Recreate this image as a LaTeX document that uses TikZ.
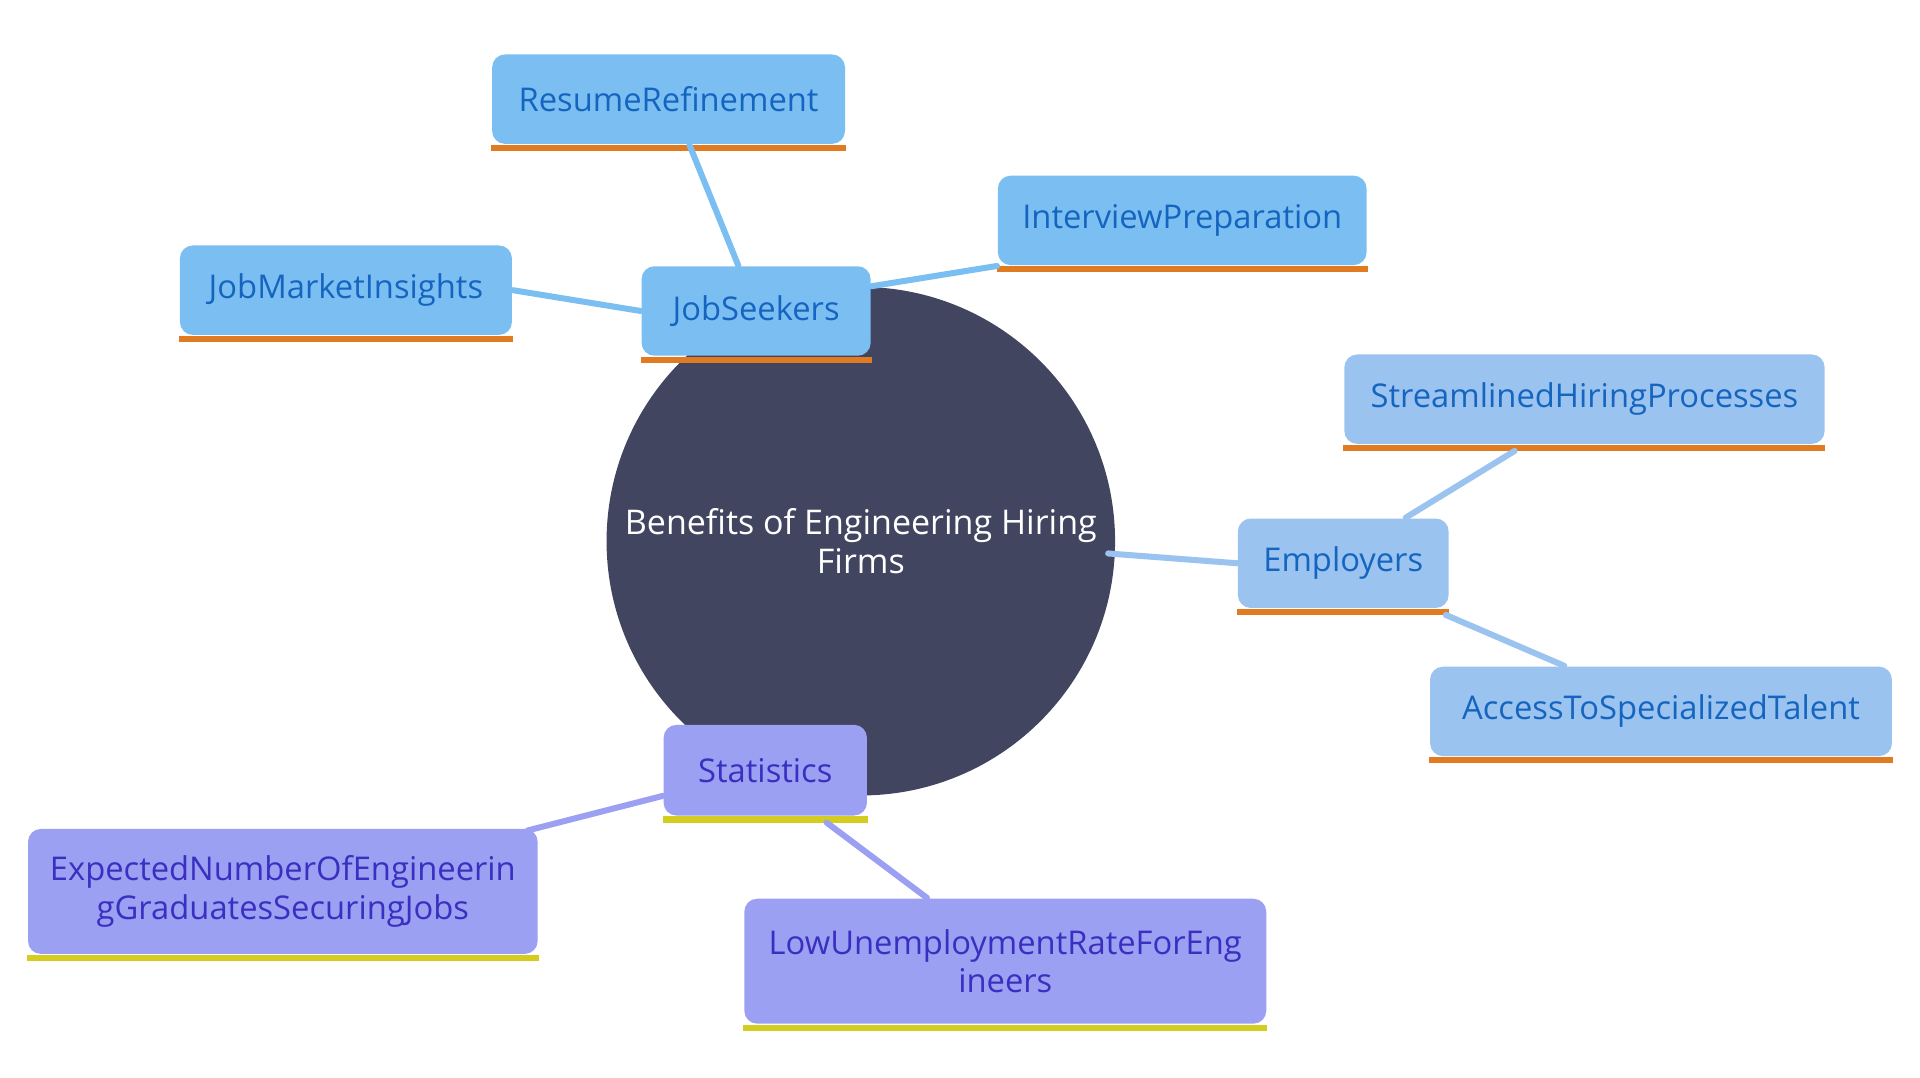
\documentclass[tikz,border=0pt]{standalone}
\usepackage{fontspec}
\setmainfont{Open Sans}
\usetikzlibrary{calc, positioning}

\definecolor{hubfill}{HTML}{414560}
\definecolor{seekfill}{HTML}{7BBFF2}
\definecolor{seektext}{HTML}{1565C0}
\definecolor{empfill}{HTML}{9AC3EF}
\definecolor{statfill}{HTML}{9BA0F2}
\definecolor{stattext}{HTML}{3A2FC0}
\definecolor{orangebar}{HTML}{E07B22}
\definecolor{yellowbar}{HTML}{D4CC1F}

\tikzset{
  box/.style={rectangle, rounded corners=3pt, inner sep=0pt, font=\fontsize{7.6}{9}\selectfont, align=center},
  seek/.style={box, fill=seekfill, text=seektext},
  emp/.style={box, fill=empfill, text=seektext},
  stat/.style={box, fill=statfill, text=stattext},
  link/.style={line width=1.4pt}
}

\begin{document}
\begin{tikzpicture}[line cap=round,line join=round,x=0.01cm,y=-0.01cm]
\useasboundingbox (0,0) rectangle (1568,880);

% Edges
\draw [link, color=seekfill] (703,442) -- (617,256);
\draw [link, color=statfill] (703,442) -- (625,630);

% Hub
\node [circle, fill=hubfill, text=white, minimum size=4.06cm, align=center,
       font=\fontsize{7.9}{9}\selectfont] (hub) at (703,442) {Benefits of Engineering Hiring\\Firms};

% Branch nodes
\node [seek, minimum width=1.87cm, minimum height=0.73cm] (seekers) at (617.5,254) {JobSeekers};
\node [seek, minimum width=2.88cm, minimum height=0.73cm] (resume) at (546,81) {ResumeRefinement};
\node [seek, minimum width=3.01cm, minimum height=0.73cm] (interview) at (965.5,180) {InterviewPreparation};
\node [seek, minimum width=2.71cm, minimum height=0.73cm] (market) at (282.5,237) {JobMarketInsights};

\node [emp, minimum width=1.72cm, minimum height=0.73cm] (employers) at (1097,460) {Employers};
\node [emp, minimum width=3.92cm, minimum height=0.73cm] (streamlined) at (1294,326) {StreamlinedHiringProcesses};
\node [emp, minimum width=3.77cm, minimum height=0.73cm] (access) at (1356.5,581) {AccessToSpecializedTalent};

\node [stat, minimum width=1.66cm, minimum height=0.74cm] (stats) at (625,629) {Statistics};
\node [stat, minimum width=4.16cm, minimum height=1.02cm, text width=4.0cm] (expected) at (231,728) {ExpectedNumberOfEngineerin\\gGraduatesSecuringJobs};
\node [stat, minimum width=4.26cm, minimum height=1.02cm, text width=4.1cm] (lowrate) at (821,785) {LowUnemploymentRateForEng\\ineers};

% Bottom bars
\foreach \n in {seekers,resume,interview,market,employers,streamlined,access}
  \fill [orangebar] (\n.south west) rectangle ($(\n.south east)+(0,5)$);
\foreach \n in {stats,expected,lowrate}
  \fill [yellowbar] (\n.south west) rectangle ($(\n.south east)+(0,5)$);

% Connectors
\begin{scope}[on background layer/.style={}]
\end{scope}
\draw [link, color=seekfill] (hub.east) ++(0,0);
\draw [link, color=seekfill] (603,217) -- (resume.south -| 563,0);
\draw [link, color=seekfill] (seekers.north east) ++(0,17) -- (interview.south west) ++(0,-10);
\draw [link, color=seekfill] (seekers.west) -- (market.east);
\draw [link, color=empfill] (905,452) -- (employers.west);
\draw [link, color=empfill] (employers.north) ++(51,0) -- ($(streamlined.south)+(-57,5)$);
\draw [link, color=empfill] ($(employers.south east)+(-3,5)$) -- ($(access.north)+(-79,0)$);
\draw [link, color=statfill] ($(stats.west)+(0,21)$) -- ($(expected.north east)+(-9,2)$);
\draw [link, color=statfill] ($(stats.south)+(50,5)$) -- ($(lowrate.north)+(-64,0)$);
\end{tikzpicture}
\end{document}
